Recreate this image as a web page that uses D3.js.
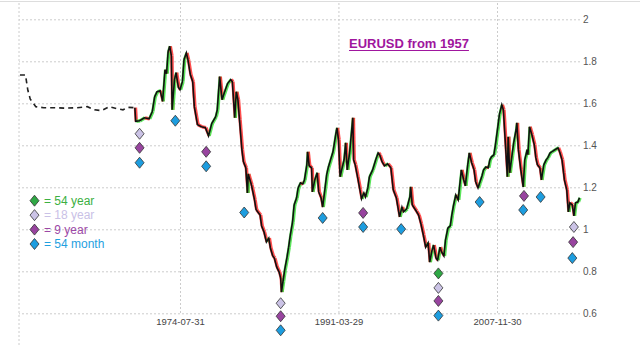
<!DOCTYPE html>
<html><head><meta charset="utf-8">
<script src="https://cdn.jsdelivr.net/npm/d3@7"></script>
<style>
html,body{margin:0;padding:0;background:#fff;}
svg{display:block;font-family:Arial,"Liberation Sans",sans-serif;}
</style></head>
<body>
<svg id="c" width="640" height="345"></svg>
<script>
const dates = ["1957-10","1958-05","1958-08","1958-11","1959-06","1960-04","1961-05","1962-07","1963-10","1964-11","1965-08","1966-05","1967-03","1968-01","1968-08","1969-02","1969-11",
"1969-12","1970-05","1970-11","1971-05","1971-09","1971-12","1972-03","1972-07","1972-10","1973-01","1973-03","1973-05","1973-07","1973-09","1973-10","1974-01","1974-03","1974-06","1974-08","1974-11",
"1975-01","1975-04","1975-06","1975-09","1975-12","1976-02","1976-06","1976-11","1977-04","1977-08","1977-12","1978-05","1978-07","1978-10","1979-01","1979-04","1979-08","1979-12",
"1980-02","1980-05","1980-07","1980-09","1980-11","1981-02","1981-04","1981-07","1981-09","1981-10","1982-02","1982-06","1982-08","1983-01","1983-03","1983-06","1983-09","1983-12",
"1984-02","1984-05","1984-07","1984-10","1985-01","1985-03","1985-04","1985-06","1985-08","1985-11","1986-01","1986-03","1986-06","1986-08","1986-11","1987-01","1987-04","1987-07","1987-09","1987-12",
"1988-01","1988-03","1988-06","1988-07","1988-10","1989-01","1989-03","1989-06","1989-08","1989-11","1990-01","1990-03","1990-06","1990-09","1991-01","1991-02","1991-04","1991-06","1991-08","1991-11",
"1992-01","1992-03","1992-06","1992-10","1992-11","1993-01","1993-04","1993-07","1993-09","1993-12","1994-02","1994-05","1994-07","1994-11","1995-03","1995-06","1995-08","1995-11",
"1996-02","1996-06","1996-10","1997-01","1997-05","1997-09","1997-12","1998-02","1998-06","1998-10","1998-11","1999-01","1999-06","1999-09","1999-12","2000-03","2000-06","2000-09","2000-11",
"2001-02","2001-04","2001-07","2001-09","2001-12","2002-02","2002-05","2002-07","2002-10","2003-01","2003-03","2003-05","2003-08","2003-11","2004-01","2004-03","2004-06","2004-08","2004-11",
"2005-01","2005-04","2005-07","2005-09","2005-12","2006-02","2006-05","2006-07","2006-10","2007-01","2007-03","2007-05","2007-08","2007-10","2008-01","2008-03","2008-06","2008-08","2008-11",
"2009-01","2009-02","2009-04","2009-07","2009-09","2009-12","2010-01","2010-03","2010-06","2010-09","2010-11","2011-02","2011-03","2011-05","2011-08","2011-11","2012-01","2012-03","2012-06","2012-08","2012-11",
"2013-02","2013-04","2013-07","2013-09","2014-01","2014-05","2014-07","2014-10","2014-12","2015-01","2015-04","2015-06","2015-08","2015-11","2016-01","2016-03","2016-06","2016-08"];
const closes = [1.735,1.735,1.662,1.620,1.584,1.579,1.579,1.577,1.579,1.584,1.569,1.565,1.584,1.574,1.569,1.581,1.579,
1.514,1.517,1.531,1.526,1.561,1.631,1.655,1.660,1.609,1.760,1.741,1.846,1.872,1.827,1.569,1.713,1.746,1.675,1.665,1.703,
1.808,1.840,1.808,1.737,1.703,1.584,1.498,1.488,1.484,1.445,1.503,1.536,1.569,1.727,1.617,1.651,1.694,1.713,
1.703,1.531,1.655,1.617,1.522,1.379,1.321,1.293,1.173,1.264,1.212,1.140,1.093,1.068,1.016,0.987,0.940,0.958,
0.911,0.873,0.863,0.820,0.796,0.768,0.701,0.753,0.806,0.868,0.915,0.968,1.035,1.116,1.149,1.197,1.221,1.216,1.235,1.307,
1.369,1.302,1.293,1.178,1.235,1.269,1.178,1.149,1.106,1.197,1.259,1.293,1.331,1.369,1.464,1.483,1.426,1.250,1.283,1.331,
1.412,1.283,1.364,1.531,1.331,1.307,1.250,1.188,1.145,1.173,1.154,1.197,1.250,1.283,1.331,1.364,1.354,1.321,
1.302,1.312,1.293,1.188,1.149,1.059,1.106,1.083,1.097,1.154,1.202,1.116,1.087,1.068,1.025,0.973,0.915,0.935,0.844,
0.901,0.925,0.863,0.853,0.915,0.892,0.873,0.949,1.006,1.016,1.068,1.111,1.164,1.140,1.212,1.283,1.235,1.207,1.307,
1.364,1.317,1.283,1.226,1.197,1.221,1.254,1.283,1.297,1.293,1.331,1.345,1.354,1.402,1.488,1.546,1.593,1.569,1.379,
1.250,1.441,1.269,1.354,1.412,1.474,1.507,1.379,1.283,1.202,1.331,1.379,1.355,1.488,1.450,1.402,1.340,1.307,1.293,1.235,1.307,
1.331,1.340,1.364,1.369,1.379,1.388,1.369,1.331,1.269,1.235,1.188,1.083,1.126,1.116,1.064,1.126,1.130,1.150];
const fixedRateCount = 17; // points drawn dashed (fixed-rate era)

const markerDates  = ["1970-05","1970-05","1970-05","1974-02","1977-05","1977-05","1981-05","1985-03","1985-03","1985-03","1989-08","1993-11","1993-11","1997-11","2001-10","2001-10","2001-10","2001-10","2006-02","2010-10","2010-09","2012-07","2016-01","2015-12","2015-11"];
const markerValues = [1.455,1.388,1.317,1.517,1.369,1.300,1.080,0.648,0.586,0.519,1.054,1.078,1.011,1.001,0.790,0.721,0.659,0.589,1.130,1.159,1.092,1.154,1.011,0.939,0.863];
const markerTypes  = ["18y","9y","54m","54m","9y","54m","54m","18y","9y","54m","54m","9y","54m","54m","54y","18y","9y","54m","54m","9y","54m","54m","18y","9y","54m"];

const legendKeys   = ["54y","18y","9y","54m"];
const legendLabels = ["= 54 year","= 18 year","= 9 year","= 54 month"];
const yTicks = [0.6,0.8,1,1.2,1.4,1.6,1.8,2];
const xTickLabels = ["1974-07-31","1991-03-29","2007-11-30"];
const title = "EURUSD from 1957";

const markerFill = {"54y":"#2fa845","18y":"#cbc3e6","9y":"#98449f","54m":"#1d9ddf"};
const textFill   = {"54y":"#3cb043","18y":"#c9c1e6","9y":"#9c48a6","54m":"#1fa0e0"};

const parseM = d3.timeParse("%Y-%m");
const parseD = d3.timeParse("%Y-%m-%d");
const data = dates.map((d,i)=>({date:parseM(d), v:closes[i]}));
const markers = markerDates.map((d,i)=>({date:parseM(d), v:markerValues[i], t:markerTypes[i]}));
const xTicks = xTickLabels.map(parseD);

const svg = d3.select("#c");
const x = d3.scaleTime().domain([xTicks[0], xTicks[2]]).range([180, 497]);
const y = d3.scaleLinear().domain([0.6, 2]).range([313.3, 19.3]);
const plotL = 19, plotR = 580;

// top border
svg.append("line").attr("x1",0).attr("x2",640).attr("y1",1.5).attr("y2",1.5).attr("stroke","#ddd");

// horizontal grid + right axis
const yAxis = d3.axisRight(y).tickValues(yTicks).tickFormat(d3.format("")).tickSize(-(plotR-plotL)).tickPadding(3);
const ga = svg.append("g").attr("transform",`translate(${plotR},0)`).call(yAxis);
ga.select(".domain").remove();
ga.selectAll(".tick line").attr("stroke","#ccc").attr("stroke-dasharray","2,2");
ga.selectAll(".tick text").attr("fill","#555").attr("font-size","10px").attr("font-family","Arial,'Liberation Sans',sans-serif");

// vertical grid + x axis labels
const xAxis = d3.axisBottom(x).tickValues(xTicks).tickFormat(d3.timeFormat("%Y-%m-%d")).tickSize(313.3-3).tickPadding(5);
const gx = svg.append("g").attr("transform","translate(0,3)").call(xAxis);
gx.select(".domain").remove();
gx.selectAll(".tick line").attr("stroke","#ccc").attr("stroke-dasharray","2,2");
gx.selectAll(".tick text").attr("fill","#444").attr("font-size","9.5px").attr("font-family","Arial,'Liberation Sans',sans-serif");
svg.append("line").attr("x1",plotL).attr("x2",plotL).attr("y1",3).attr("y2",345)
  .attr("stroke","#ccc").attr("stroke-dasharray","2,2");

// title
const tt = svg.append("text").attr("x",349).attr("y",48).attr("fill","#a0169e")
  .attr("font-size","13px").attr("font-weight","bold").text(title);
const tw = tt.node().getComputedTextLength();
svg.append("line").attr("x1",349).attr("x2",349+tw).attr("y1",50.5).attr("y2",50.5)
  .attr("stroke","#a0169e").attr("stroke-width",1.2);

// price candles (halo segments)
const segs = [];
for (let i = fixedRateCount; i < data.length; i++) segs.push([data[i-1], data[i]]);
svg.append("g").selectAll("line").data(segs).join("line")
  .attr("x1",d=>x(d[0].date)+0.6).attr("y1",d=>y(d[0].v))
  .attr("x2",d=>x(d[1].date)+0.6).attr("y2",d=>y(d[1].v))
  .attr("stroke",d=>d[1].v>=d[0].v?"#3ee03e":"#ff3030")
  .attr("stroke-width",3.4).attr("stroke-linecap","butt").attr("opacity",0.85);

const line = d3.line().x(d=>x(d.date)).y(d=>y(d.v)).curve(d3.curveLinear);
svg.append("path").datum(data.slice(0, fixedRateCount))
  .attr("d",line).attr("fill","none").attr("stroke","#222").attr("stroke-width",1.6)
  .attr("stroke-dasharray","5,4");
svg.append("path").datum(data.slice(fixedRateCount-1))
  .attr("d",line).attr("fill","none").attr("stroke","#111").attr("stroke-width",1.6)
  .attr("stroke-linejoin","miter");

// cycle markers
const diamond = (cx,cy,w,h)=>`M${cx},${cy-h}L${cx+w},${cy}L${cx},${cy+h}L${cx-w},${cy}Z`;
svg.append("g").selectAll("path").data(markers).join("path")
  .attr("d",d=>diamond(x(d.date), y(d.v), 4.5, 5.5))
  .attr("fill",d=>markerFill[d.t]).attr("stroke","#333").attr("stroke-width",0.8);

// legend
const lg = svg.append("g");
const ly = d3.scalePoint().domain(legendKeys).range([200.7, 244]);
legendKeys.forEach((k,i)=>{
  lg.append("path").attr("d",diamond(34.5, ly(k), 4.5, 5.5))
    .attr("fill",markerFill[k]).attr("stroke","#333").attr("stroke-width",0.8);
  lg.append("text").attr("x",44).attr("y",ly(k)).attr("dy","0.36em")
    .attr("font-size","12px").attr("fill",textFill[k]).text(legendLabels[i]);
});
</script>
</body></html>
